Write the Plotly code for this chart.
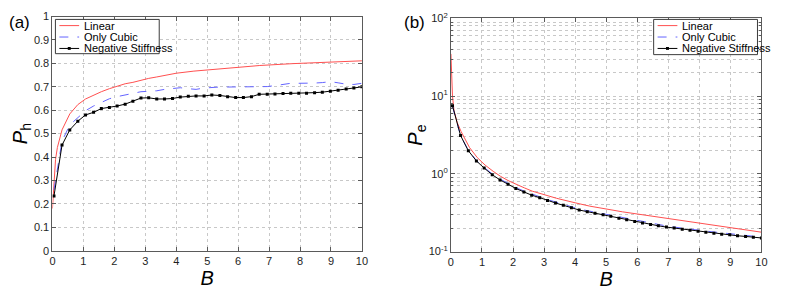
import plotly.graph_objects as go

# ---------------- data ----------------
B_grid = [0.05, 0.31, 0.56, 0.82, 1.07, 1.33, 1.58, 1.84, 2.09, 2.35,
          2.60, 2.86, 3.11, 3.37, 3.62, 3.88, 4.13, 4.39, 4.64, 4.90,
          5.15, 5.41, 5.66, 5.92, 6.17, 6.43, 6.68, 6.94, 7.19, 7.45,
          7.70, 7.96, 8.21, 8.47, 8.72, 8.98, 9.23, 9.49, 9.74, 10.0]

# (a) P_h
Ph_neg = [0.234, 0.451, 0.516, 0.553, 0.580, 0.591, 0.607, 0.612, 0.618, 0.626,
          0.638, 0.652, 0.653, 0.648, 0.648, 0.650, 0.656, 0.660, 0.661, 0.661,
          0.665, 0.663, 0.658, 0.654, 0.654, 0.658, 0.668, 0.668, 0.669, 0.671,
          0.672, 0.672, 0.673, 0.675, 0.677, 0.681, 0.685, 0.691, 0.695, 0.700]
Ph_cubic = [0.260, 0.468, 0.537, 0.570, 0.598, 0.618, 0.634, 0.649, 0.658, 0.665,
            0.672, 0.679, 0.681, 0.683, 0.689, 0.692, 0.696, 0.692, 0.689, 0.695,
            0.698, 0.699, 0.699, 0.699, 0.699, 0.699, 0.699, 0.701, 0.705, 0.711,
            0.715, 0.715, 0.714, 0.716, 0.718, 0.722, 0.717, 0.711, 0.710, 0.715]
B_lin_a = [0.0, 0.05, 0.10, 0.16, 0.31, 0.56, 0.82, 1.07, 1.33, 1.58, 1.84, 2.09,
           2.35, 2.60, 2.86, 3.11, 3.37, 3.60, 4.00, 4.57, 5.64, 6.70, 7.77, 8.83, 10.0]
Ph_lin = [0.180, 0.310, 0.390, 0.441, 0.516, 0.584, 0.624, 0.648, 0.665, 0.679, 0.692, 0.702,
          0.713, 0.719, 0.729, 0.736, 0.742, 0.749, 0.758, 0.767, 0.780, 0.791, 0.799, 0.806, 0.811]

# (b) P_e
Pe_neg = [7.55, 3.12, 1.99, 1.47, 1.19, 0.976, 0.838, 0.735, 0.650, 0.587,
          0.533, 0.495, 0.455, 0.422, 0.395, 0.366, 0.343, 0.327, 0.312, 0.298,
          0.285, 0.269, 0.257, 0.245, 0.234, 0.223, 0.215, 0.207, 0.201, 0.194,
          0.188, 0.183, 0.178, 0.173, 0.168, 0.165, 0.160, 0.157, 0.153, 0.150]
Pe_cubic = [7.40, 3.10, 2.00, 1.49, 1.21, 1.00, 0.860, 0.755, 0.668, 0.603,
            0.548, 0.508, 0.468, 0.434, 0.406, 0.377, 0.353, 0.337, 0.322, 0.307,
            0.294, 0.278, 0.265, 0.253, 0.241, 0.230, 0.222, 0.214, 0.207, 0.200,
            0.194, 0.189, 0.184, 0.179, 0.174, 0.170, 0.166, 0.162, 0.158, 0.155]
B_lin_b = [0.0, 0.02, 0.05, 0.10, 0.20, 0.33, 0.60, 0.85, 1.10, 1.36, 1.60, 1.87,
           2.10, 2.37, 2.62, 2.88, 3.14, 3.40, 4.00, 4.47, 5.53, 6.60, 7.66, 8.72, 10.0]
Pe_lin = [35.0, 20.0, 10.0, 6.5, 4.6, 3.49, 2.18, 1.62, 1.30, 1.08, 0.93, 0.81,
          0.73, 0.66, 0.60, 0.555, 0.52, 0.486, 0.425, 0.385, 0.325, 0.280, 0.245, 0.212, 0.178]

x_ticks = [0, 1, 2, 3, 4, 5, 6, 7, 8, 9, 10]
ya_ticks = [0, 0.1, 0.2, 0.3, 0.4, 0.5, 0.6, 0.7, 0.8, 0.9, 1]
yb_tickvals = [0.1, 1, 10, 100]
yb_ticktext = ["10<sup>-1</sup>", "10<sup>0</sup>", "10<sup>1</sup>", "10<sup>2</sup>"]

names = ["Linear", "Only Cubic", "Negative Stiffness"]

# ---------------- styles ----------------
FONT = "Liberation Sans, Arial, Helvetica, sans-serif"
RED = "rgb(255,80,80)"
BLUE = "rgb(100,100,255)"
BLACK = "rgb(0,0,0)"
GRID = "rgb(200,200,200)"
AXC = "rgb(90,90,90)"
styles = [dict(color=RED, dash="solid", marker=False),
          dict(color=BLUE, dash="dash", marker=False),
          dict(color=BLACK, dash="solid", marker=True)]

W, H = 805, 290

fig = go.Figure()

# panel (a)
fig.add_trace(go.Scatter(x=B_lin_a, y=Ph_lin, mode="lines", name=names[0],
                         line=dict(color=RED, width=1), xaxis="x", yaxis="y"))
fig.add_trace(go.Scatter(x=B_grid, y=Ph_cubic, mode="lines", name=names[1],
                         line=dict(color=BLUE, width=1, dash="dash"), xaxis="x", yaxis="y"))
fig.add_trace(go.Scatter(x=B_grid, y=Ph_neg, mode="lines+markers", name=names[2],
                         line=dict(color=BLACK, width=1), marker=dict(symbol="square", size=3, color=BLACK),
                         xaxis="x", yaxis="y"))
# panel (b)
fig.add_trace(go.Scatter(x=B_lin_b, y=Pe_lin, mode="lines", name=names[0],
                         line=dict(color=RED, width=1), xaxis="x2", yaxis="y2"))
fig.add_trace(go.Scatter(x=B_grid, y=Pe_cubic, mode="lines", name=names[1],
                         line=dict(color=BLUE, width=1, dash="dash"), xaxis="x2", yaxis="y2"))
fig.add_trace(go.Scatter(x=B_grid, y=Pe_neg, mode="lines+markers", name=names[2],
                         line=dict(color=BLACK, width=1), marker=dict(symbol="square", size=3, color=BLACK),
                         xaxis="x2", yaxis="y2"))


def px_x(a, b):
    return [a / W, b / W]


def px_y(top, bottom):
    return [(H - bottom) / H, (H - top) / H]


def X(px):
    return px / W


def Y(py):
    return (H - py) / H


common_axis = dict(showline=True, linecolor=AXC, linewidth=1, mirror="allticks",
                   ticks="inside", ticklen=4, tickcolor=AXC,
                   showgrid=True, gridcolor=GRID, griddash="dot", gridwidth=1,
                   zeroline=False, tickfont=dict(size=11, color="rgb(30,30,30)", family=FONT))

# ---------- compact MATLAB-style legends (drawn as shapes + text) ----------
shapes = []
annotations = []
legend_boxes = [(53, 12, 158, 48), (658, 12, 763, 49)]
for (x0, y0, x1, y1) in legend_boxes:
    shapes.append(dict(type="rect", xref="paper", yref="paper", x0=X(x0), x1=X(x1), y0=Y(y1), y1=Y(y0),
                       line=dict(color="rgb(60,60,60)", width=1), fillcolor="white", layer="above"))
    row_y = [y0 + 6.5, y0 + 18.5, y0 + 30.5]
    for i, nm in enumerate(names):
        st = styles[i]
        ly = row_y[i]
        shapes.append(dict(type="line", xref="paper", yref="paper", x0=X(x0 + 4), x1=X(x0 + 24),
                           y0=Y(ly), y1=Y(ly), layer="above",
                           line=dict(color=st["color"], width=1, dash=st["dash"])))
        if st["marker"]:
            shapes.append(dict(type="rect", xref="paper", yref="paper", x0=X(x0 + 12.5), x1=X(x0 + 15.5),
                               y0=Y(ly + 1.5), y1=Y(ly - 1.5), layer="above",
                               line=dict(color=BLACK, width=0), fillcolor=BLACK))
        annotations.append(dict(text=nm, x=X(x0 + 26.5), y=Y(ly), xref="paper", yref="paper",
                                xanchor="left", yanchor="middle", showarrow=False,
                                font=dict(size=11, family=FONT, color="black")))

annotations += [
    dict(text="(a)", x=X(4), y=Y(15), xref="paper", yref="paper",
         xanchor="left", yanchor="middle", showarrow=False, font=dict(size=17, family=FONT)),
    dict(text="(b)", x=X(404), y=Y(15), xref="paper", yref="paper",
         xanchor="left", yanchor="middle", showarrow=False, font=dict(size=17, family=FONT)),
]

fig.update_layout(
    width=W, height=H,
    margin=dict(l=0, r=0, t=0, b=0),
    paper_bgcolor="white", plot_bgcolor="white",
    font=dict(family=FONT, color="black"),
    showlegend=False,
    xaxis=dict(domain=px_x(50, 363), range=[0, 10], tickvals=x_ticks, anchor="y",
               title=dict(text="<i>B</i>", font=dict(size=20), standoff=0), **common_axis),
    yaxis=dict(domain=px_y(9, 255), range=[0, 1], tickvals=ya_ticks, anchor="x",
               title=dict(text="<i>P</i><sub>h</sub>", font=dict(size=20), standoff=0), **common_axis),
    xaxis2=dict(domain=px_x(453, 767), range=[0, 10], tickvals=x_ticks, anchor="y2",
                title=dict(text="<i>B</i>", font=dict(size=20), standoff=0), **common_axis),
    yaxis2=dict(domain=px_y(11, 256), type="log", range=[-1, 2], tickvals=yb_tickvals,
                ticktext=yb_ticktext, anchor="x2",
                minor=dict(showgrid=True, gridcolor=GRID, griddash="dot", ticks="inside",
                           ticklen=2, tickcolor=AXC,
                           tickvals=[v * m for v in [0.1, 1, 10] for m in range(2, 10)]),
                title=dict(text="<i>P</i><sub>e</sub>", font=dict(size=20), standoff=0), **common_axis),
    shapes=shapes,
    annotations=annotations,
)

fig.write_html("out.html", config={"displayModeBar": False},
               post_script="document.body.style.margin='0px';document.body.style.overflow='hidden';")
